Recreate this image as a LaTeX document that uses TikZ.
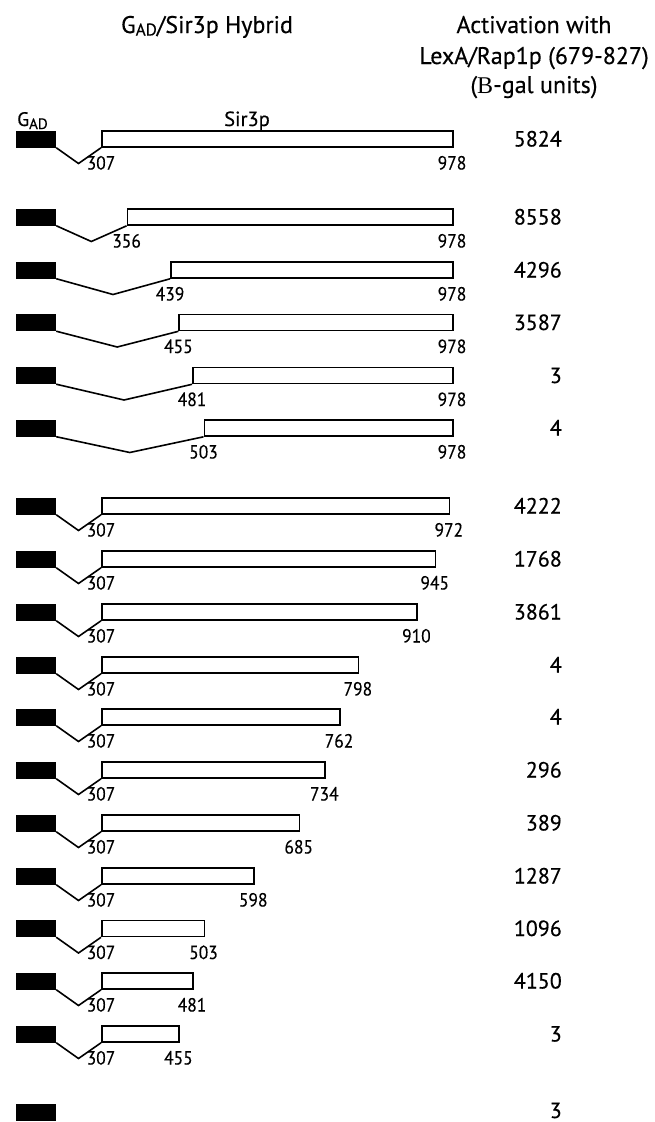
\documentclass[tikz,border=0pt]{standalone}
\usepackage{fontspec}
\setmainfont{PT Sans}[FakeBold=0.4]
\newfontfamily\narrowfont{PT Sans}[FakeStretch=0.92,FakeBold=0.3]
\newfontfamily\serifB{Liberation Serif}
\usetikzlibrary{positioning}
\begin{document}
\begin{tikzpicture}[x=1pt,y=-1pt,
  gad/.style={fill=black,draw=none,minimum width=40pt,minimum height=17pt,inner sep=0pt},
  bar/.style={draw,line width=1.6pt,fill=white,minimum height=16pt,inner sep=0pt,anchor=west},
  lbl/.style={font=\narrowfont\fontsize{19}{20}\selectfont,anchor=base,inner sep=0pt},
  val/.style={font=\fontsize{22}{24}\selectfont,anchor=base east,inner sep=0pt},
  head/.style={font=\fontsize{24}{30}\selectfont,anchor=base,inner sep=0pt}]
  \useasboundingbox (0,0) rectangle (655,1122);
  \node[head] (hyb) at (207,33) {G\raisebox{-2.5pt}{\fontsize{17}{17}\selectfont AD}/Sir3p Hybrid};
  \node[head] (act1) at (534,33) {Activation with};
  \node[head] (act2) at (534,64) {LexA/Rap1p (679-827)};
  \node[head] (act3) at (534,93) {({\serifB B}-gal units)};
  \node[lbl,anchor=base west,font=\fontsize{19.5}{20}\selectfont] (gadlbl) at (17,126) {G\raisebox{-3pt}{\fontsize{15}{15}\selectfont AD}};
  \node[lbl,font=\fontsize{20.5}{22}\selectfont] (sirlbl) at (247,126) {Sir3p};
  \foreach \s/\e/\v/\y [count=\i] in {307/978/5824/139, 356/978/8558/217, 439/978/4296/270, 455/978/3587/322.5, 481/978/3/375.5, 503/978/4/428,
    307/972/4222/506, 307/945/1768/559, 307/910/3861/612, 307/798/4/665, 307/762/4/717, 307/734/296/770,
    307/685/389/823, 307/598/1287/876, 307/503/1096/928.5, 307/481/4150/981, 307/455/3/1034}{
    \pgfmathsetmacro\xs{101+0.5231*(\s-307)}
    \pgfmathsetmacro\xe{101+0.5231*(\e-307)}
    \pgfmathsetmacro\w{\xe-\xs}
    \node[gad] (g\i) at (36,\y) {};
    \node[bar,minimum width=\w pt] (b\i) at (\xs,\y) {};
    \coordinate (v\i) at ({(56+\xs)/2},\y+24.5);
    \draw[line width=1.6pt] (g\i.south east) -- (v\i) -- (b\i.south west);
    \node[lbl] (s\i) at (\xs,\y+30.5) {\s};
    \node[lbl] (e\i) at (\xe,\y+30.5) {\e};
    \node[val] (n\i) at (562,\y+7.5) {\v};
  }
  \node[gad] (g18) at (36,1112.5) {};
  \node[val] (n18) at (562,1118) {3};
\end{tikzpicture}
\end{document}
